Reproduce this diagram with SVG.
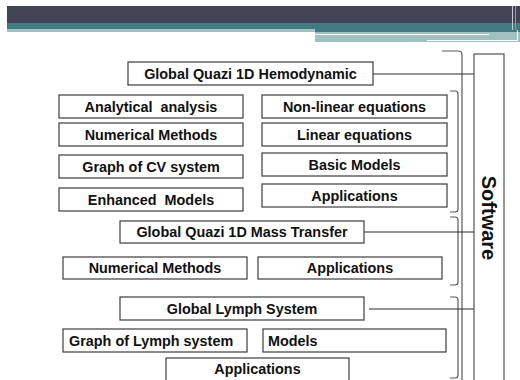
<svg xmlns="http://www.w3.org/2000/svg" width="520" height="380" viewBox="0 0 520 380">
<style>
.box{fill:#fff;stroke:#3c3c3c;stroke-width:1.2}
.t{font-family:"Liberation Sans",Arial,sans-serif;font-weight:bold;font-size:14.4px;fill:#111;text-anchor:middle}
.ts{text-anchor:start}
.br{fill:none;stroke:#5a5a5a;stroke-width:1.2}
.cn{fill:none;stroke:#2a2a2a;stroke-width:1.1}
</style>
<rect width="520" height="380" fill="#fff"/>
<g id="header">
<rect x="7" y="6" width="513" height="17" fill="#414455"/>
<rect x="7" y="23" width="513" height="6" fill="#437c80"/>
<rect x="7" y="29" width="308" height="3" fill="#a2bfc2"/>
<rect x="315" y="29" width="205" height="3" fill="#437c80"/>
<rect x="315" y="32" width="205" height="10" fill="#a2bfc2"/>
<line x1="315" y1="34.5" x2="489" y2="34.5" stroke="#fff" stroke-width="1.2"/>
<line x1="427" y1="40.5" x2="518" y2="40.5" stroke="#fff" stroke-width="1"/>
<line x1="517.5" y1="30" x2="517.5" y2="41" stroke="#fff" stroke-width="1"/>
<line x1="512.5" y1="6" x2="512.5" y2="30" stroke="#c8c8d0" stroke-width="1"/>
<line x1="515.5" y1="6" x2="515.5" y2="30" stroke="#9a9aa8" stroke-width="1"/>
</g>
<g id="brackets">
<path class="br" d="M442,51 L458,51 Q462,51 462,55 L462,382"/>
<path class="br" d="M450,91 L455,91 Q458,91 458,94 L458,209 Q458,212 455,212 L450,212"/>
<path class="br" d="M450,217 L455,217 Q458,217 458,220 L458,282 Q458,285 455,285 L450,285"/>
<path class="br" d="M450,297 L455,297 Q458,297 458,300 L458,375 Q458,378 455,378 L450,378"/>
</g>
<g id="connectors">
<line class="cn" x1="373" y1="74" x2="474" y2="74"/>
<line class="cn" x1="364" y1="232" x2="474" y2="232"/>
<line class="cn" x1="369" y1="309" x2="474" y2="309"/>
</g>
<g id="software">
<rect x="474" y="54" width="30" height="340" fill="#fff" stroke="#555" stroke-width="1.2"/>
<text class="t" style="font-size:20px" transform="translate(489,218) rotate(90)" y="7">Software</text>
</g>
<g id="hemodynamic"><rect class="box" x="128" y="62" width="245" height="23"/><text class="t" x="250.5" y="78.7">Global Quazi 1D Hemodynamic</text></g>
<g id="analytical"><rect class="box" x="59" y="95" width="184" height="23"/><text class="t" x="151" y="111.7" xml:space="preserve">Analytical  analysis</text></g>
<g id="numerical1"><rect class="box" x="59" y="123" width="184" height="23"/><text class="t" x="151" y="139.7">Numerical Methods</text></g>
<g id="graphcv"><rect class="box" x="59" y="155" width="184" height="23"/><text class="t" x="151" y="171.7">Graph of CV system</text></g>
<g id="enhanced"><rect class="box" x="59" y="188" width="184" height="23"/><text class="t" x="151" y="204.7" xml:space="preserve">Enhanced  Models</text></g>
<g id="nonlinear"><rect class="box" x="262" y="95" width="185" height="23"/><text class="t" x="354.5" y="111.7">Non-linear equations</text></g>
<g id="linear"><rect class="box" x="262" y="123" width="185" height="23"/><text class="t" x="354.5" y="139.7">Linear equations</text></g>
<g id="basic"><rect class="box" x="262" y="153" width="185" height="23"/><text class="t" x="354.5" y="169.7">Basic Models</text></g>
<g id="applications1"><rect class="box" x="262" y="184" width="185" height="23"/><text class="t" x="354.5" y="200.7">Applications</text></g>
<g id="masstransfer"><rect class="box" x="120" y="221" width="244" height="22"/><text class="t" x="242" y="237.2">Global Quazi 1D Mass Transfer</text></g>
<g id="numerical2"><rect class="box" x="63" y="257" width="184" height="22"/><text class="t" x="155" y="273.2">Numerical Methods</text></g>
<g id="applications2"><rect class="box" x="258" y="257" width="184" height="22"/><text class="t" x="350" y="273.2">Applications</text></g>
<g id="lymph"><rect class="box" x="120" y="297" width="244" height="23"/><text class="t" x="242" y="313.7">Global Lymph System</text></g>
<g id="graphlymph"><rect class="box" x="63" y="329" width="184" height="23"/><text class="t ts" x="69" y="345.7">Graph of Lymph system</text></g>
<g id="models"><rect class="box" x="263" y="329" width="183" height="23"/><text class="t ts" x="268" y="345.7">Models</text></g>
<g id="applications3"><rect class="box" x="166" y="358" width="183" height="30"/><text class="t" x="257.5" y="374.2">Applications</text></g>
</svg>
